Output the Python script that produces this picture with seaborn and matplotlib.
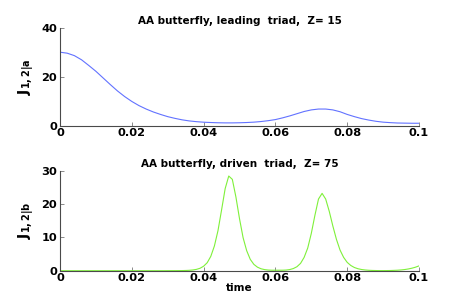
import numpy as np
import pandas as pd
import matplotlib
matplotlib.use("Agg")
import matplotlib.pyplot as plt
import seaborn as sns

# ---- data ----
t_top = [0.000, 0.002, 0.004, 0.006, 0.008, 0.010, 0.012, 0.014, 0.016, 0.018,
         0.020, 0.022, 0.024, 0.026, 0.028, 0.030, 0.032, 0.034, 0.036, 0.038,
         0.040, 0.042, 0.044, 0.046, 0.048, 0.050, 0.052, 0.054, 0.056, 0.058,
         0.060, 0.062, 0.064, 0.066, 0.068, 0.070, 0.072, 0.074, 0.076, 0.078,
         0.080, 0.082, 0.084, 0.086, 0.088, 0.090, 0.092, 0.094, 0.096, 0.098,
         0.100]
j_top = [30.0, 29.6, 28.6, 26.9, 24.6, 22.2, 19.5, 16.8, 14.2, 11.9,
         9.9, 8.2, 6.8, 5.6, 4.6, 3.7, 3.0, 2.4, 1.95, 1.65,
         1.43, 1.3, 1.2, 1.15, 1.15, 1.2, 1.3, 1.45, 1.7, 2.05,
         2.5, 3.2, 4.0, 4.9, 5.8, 6.45, 6.8, 6.8, 6.45, 5.7,
         4.6, 3.7, 2.9, 2.3, 1.8, 1.45, 1.25, 1.1, 1.05, 1.0,
         1.0]

t_bot = [round(0.001 * i, 3) for i in range(101)]
j_bot = [0.0] * 30 + [
    0.01, 0.015, 0.02, 0.03, 0.04, 0.07, 0.12, 0.22, 0.40, 0.73,      # 0.030-0.039
    1.35, 2.4, 4.3, 7.4, 12.0, 18.2, 24.6, 28.4, 27.4, 22.1,          # 0.040-0.049
    15.6, 9.9, 6.0, 3.4, 1.9, 1.06, 0.58, 0.33, 0.2, 0.15,            # 0.050-0.059
    0.15, 0.15, 0.15, 0.2, 0.35, 0.65, 1.2, 2.2, 4.0, 6.8,            # 0.060-0.069
    11.2, 16.6, 21.5, 23.2, 21.5, 17.8, 13.4, 9.4, 6.2, 4.0,          # 0.070-0.079
    2.5, 1.57, 0.96, 0.59, 0.36, 0.22, 0.13, 0.08, 0.05, 0.03,        # 0.080-0.089
    0.03, 0.04, 0.06, 0.1, 0.15, 0.23, 0.35, 0.52, 0.75, 1.05,        # 0.090-0.099
    1.45]                                                             # 0.100

titles = ["AA butterfly, leading  triad,  Z= 15",
          "AA butterfly, driven  triad,  Z= 75"]
ylabels = [r"$\mathbf{J_{1,2|a}}$", r"$\mathbf{J_{1,2|b}}$"]
xticks = [0, 0.02, 0.04, 0.06, 0.08, 0.1]
xticklabels = ["0", "0.02", "0.04", "0.06", "0.08", "0.1"]
yticks_top = [0, 20, 40]
yticks_bot = [0, 10, 20, 30]

# ---- style ----
sns.set_style("ticks")
plt.rcParams["font.family"] = ["DejaVu Sans"]
plt.rcParams["font.weight"] = "bold"
plt.rcParams["text.color"] = "black"
plt.rcParams["axes.labelcolor"] = "black"
plt.rcParams["mathtext.fontset"] = "custom"
plt.rcParams["mathtext.rm"] = "DejaVu Sans"
plt.rcParams["mathtext.bf"] = "DejaVu Sans:bold"
plt.rcParams["mathtext.it"] = "DejaVu Sans:italic"

fig = plt.figure(figsize=(4.63, 3.04), dpi=100)
fig.patch.set_facecolor("white")
ax1 = fig.add_axes([0.1296, 0.5865, 0.7754, 0.3224])
ax2 = fig.add_axes([0.1296, 0.1095, 0.7754, 0.329])

df_top = pd.DataFrame({"t": t_top, "J": j_top})
df_bot = pd.DataFrame({"t": t_bot, "J": j_bot})

sns.lineplot(data=df_top, x="t", y="J", ax=ax1, color="#6272ff", linewidth=0.8)
sns.lineplot(data=df_bot, x="t", y="J", ax=ax2, color="#7ff03a", linewidth=0.8)

for ax, title, ylab, yt, ylim in [(ax1, titles[0], ylabels[0], yticks_top, (0, 40)),
                                   (ax2, titles[1], ylabels[1], yticks_bot, (0, 30))]:
    ax.set_xlim(0, 0.1)
    ax.set_ylim(*ylim)
    ax.set_xticks(xticks)
    ax.set_xticklabels(xticklabels)
    ax.set_yticks(yt)
    ax.set_yticklabels([str(v) for v in yt])
    ax.set_title(title, fontsize=7.5, fontweight="bold", pad=2.5, color="black")
    ax.set_ylabel(ylab, fontsize=10, labelpad=3, color="black")
    ax.set_xlabel("")
    ax.set_facecolor("white")
    for s in ["top", "right"]:
        ax.spines[s].set_visible(False)
    for s in ["left", "bottom"]:
        ax.spines[s].set_color("#4a4a4a")
        ax.spines[s].set_linewidth(0.8)
    ax.tick_params(direction="in", length=3, width=0.6, color="#777777",
                   labelsize=8.2, pad=2, labelcolor="black")
    for lab in ax.get_xticklabels() + ax.get_yticklabels():
        lab.set_fontweight("bold")

ax2.set_xlabel("time", fontsize=7.5, fontweight="bold", labelpad=0, color="black")

fig.savefig("out.png", dpi=100, facecolor="white")
